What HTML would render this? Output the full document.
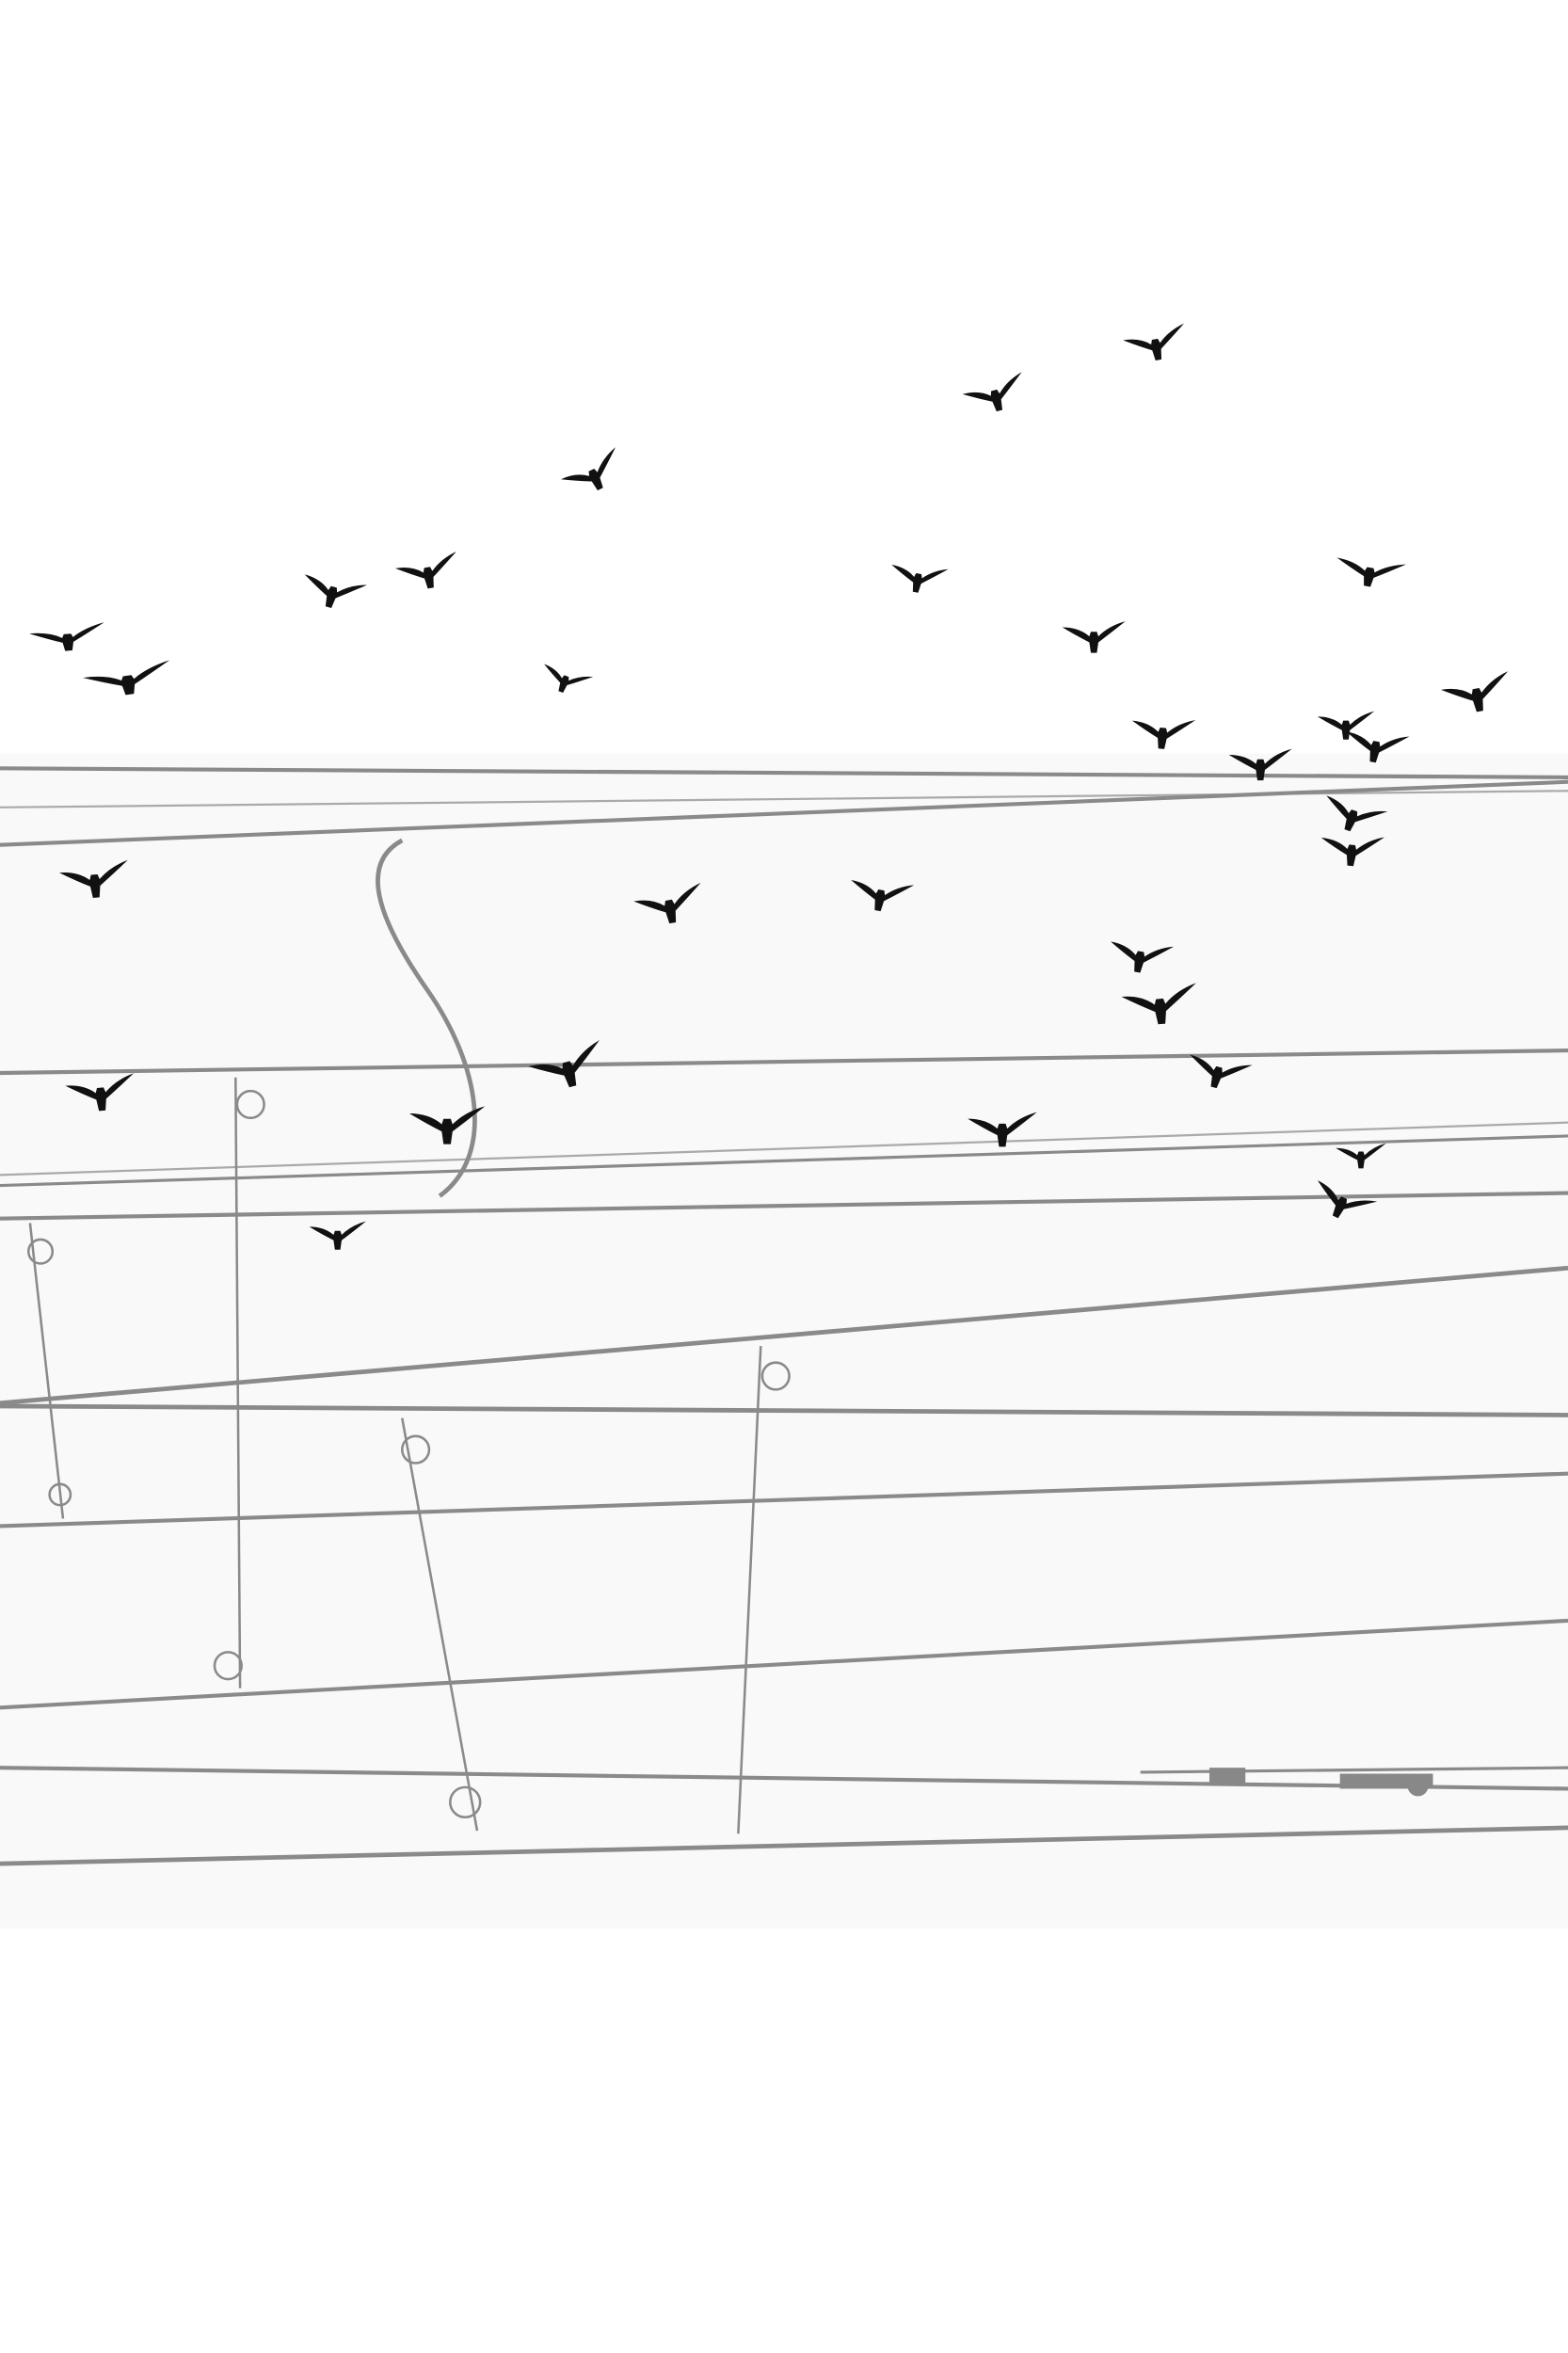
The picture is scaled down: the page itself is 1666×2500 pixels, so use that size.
<!DOCTYPE html>
<html><head><meta charset="utf-8"><style>
html,body{margin:0;padding:0;background:#fff}
svg{display:block}
</style></head><body>
<svg width="1666" height="2500" viewBox="0 0 1045 1568" xmlns="http://www.w3.org/2000/svg">
<defs>
<path id="b" d="M-21,-5 Q-10,-5 -3,1 L-2,-2 L2,-2 L3,1 Q10,-6 21,-9 Q11,-1 3,5 L2,12 L-2,12 L-3,5 Q-11,1 -21,-5Z" fill="#111"/>
</defs>
<rect width="1045" height="1568" fill="#fff"/>
<rect x="0" y="502" width="1045" height="783" fill="#f9f9f9"/>
<g stroke="#8a8a8a" fill="none" stroke-width="2.6">
<line x1="0" y1="512" x2="1045" y2="518"/>
<line x1="0" y1="538" x2="1045" y2="527" stroke-width="1.4" stroke="#aaa"/>
<line x1="0" y1="563" x2="1045" y2="521"/>
<line x1="0" y1="715" x2="1045" y2="700"/>
<line x1="0" y1="783" x2="1045" y2="748" stroke-width="1.4" stroke="#aaa"/>
<line x1="0" y1="790" x2="1045" y2="757" stroke-width="2"/>
<line x1="0" y1="812" x2="1045" y2="795"/>
<line x1="0" y1="935" x2="1045" y2="845" stroke-width="3"/>
<line x1="0" y1="937" x2="1045" y2="943" stroke-width="3"/>
<line x1="0" y1="1017" x2="1045" y2="982"/>
<line x1="0" y1="1138" x2="1045" y2="1080"/>
<line x1="0" y1="1178" x2="1045" y2="1192"/>
<line x1="760" y1="1181" x2="1045" y2="1178" stroke-width="2"/>
<line x1="0" y1="1242" x2="1045" y2="1218" stroke-width="3"/>
<g stroke-width="1.6">
<line x1="20" y1="815" x2="42" y2="1012"/>
<line x1="157" y1="718" x2="160" y2="1125"/>
<line x1="268" y1="945" x2="318" y2="1220"/>
<line x1="507" y1="897" x2="492" y2="1222"/>
<circle cx="27" cy="834" r="8"/><circle cx="167" cy="736" r="9"/><circle cx="277" cy="966" r="9"/><circle cx="517" cy="917" r="9"/>
<circle cx="40" cy="996" r="7"/><circle cx="152" cy="1110" r="9"/><circle cx="310" cy="1201" r="10"/>
</g>
<path d="M268,560 C240,575 250,610 285,660 C320,710 330,770 293,797" stroke-width="3"/>
</g>
<g fill="#888"><rect x="806" y="1178" width="24" height="12"/><rect x="893" y="1182" width="62" height="10"/><circle cx="945" cy="1190" r="7"/></g>
<g>
<use href="#b" transform="translate(45,424) rotate(-5) scale(1.2,0.8)"/>
<use href="#b" transform="translate(85,452) rotate(-8) scale(1.4,0.9)"/>
<use href="#b" transform="translate(222,393) rotate(15)"/>
<use href="#b" transform="translate(285,380) rotate(-10)"/>
<use href="#b" transform="translate(395,315) rotate(-25)"/>
<use href="#b" transform="translate(377,452) rotate(20) scale(0.8)"/>
<use href="#b" transform="translate(612,384) rotate(10) scale(0.9)"/>
<use href="#b" transform="translate(663,262) rotate(-15)"/>
<use href="#b" transform="translate(770,228) rotate(-10)"/>
<use href="#b" transform="translate(729,423) rotate(0)"/>
<use href="#b" transform="translate(913,380) rotate(10) scale(1.1,0.9)"/>
<use href="#b" transform="translate(984,461) rotate(-10) scale(1.1)"/>
<use href="#b" transform="translate(775,487) rotate(5)"/>
<use href="#b" transform="translate(840,508) rotate(0)"/>
<use href="#b" transform="translate(897,482) rotate(0) scale(0.9)"/>
<use href="#b" transform="translate(917,496) rotate(10)"/>
<use href="#b" transform="translate(902,542) rotate(20)"/>
<use href="#b" transform="translate(901,565) rotate(5)"/>
<use href="#b" transform="translate(63,585) rotate(-5) scale(1.1)"/>
<use href="#b" transform="translate(446,602) rotate(-10) scale(1.1)"/>
<use href="#b" transform="translate(587,595) rotate(10)"/>
<use href="#b" transform="translate(760,636) rotate(10)"/>
<use href="#b" transform="translate(773,668) rotate(-5) scale(1.2)"/>
<use href="#b" transform="translate(812,713) rotate(15)"/>
<use href="#b" transform="translate(378,710) rotate(-15) scale(1.2)"/>
<use href="#b" transform="translate(298,748) rotate(0) scale(1.2)"/>
<use href="#b" transform="translate(67,727) rotate(-5) scale(1.1)"/>
<use href="#b" transform="translate(668,751) rotate(0) scale(1.1)"/>
<use href="#b" transform="translate(907,769) rotate(0) scale(0.8)"/>
<use href="#b" transform="translate(895,800) rotate(25)"/>
<use href="#b" transform="translate(225,822) rotate(0) scale(0.9)"/>
</g>
</svg>
</body></html>
